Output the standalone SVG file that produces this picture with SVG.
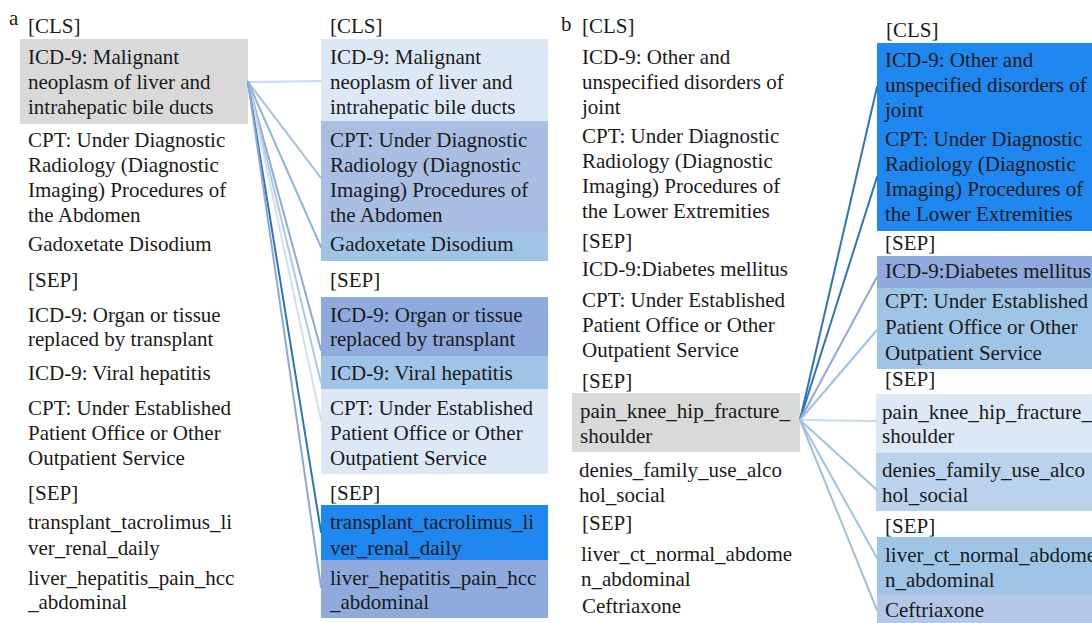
<svg xmlns="http://www.w3.org/2000/svg" width="1092" height="623" viewBox="0 0 1092 623">
<style>
text{font-family:"Liberation Serif","Times New Roman",serif;font-size:21px;fill:#1a1a1a}
.lbl{font-size:21px}
.conn line{stroke-width:2;stroke-linecap:round;fill:none}
.gray{fill:#d9d9d9}
.c1{fill:#dce8f5}
.c2{fill:#a9bee2}
.c3{fill:#9fc4e6}
.c4{fill:#8faadc}
.c5{fill:#1f88f0}
.c6{fill:#bad2ec}
.c7{fill:#b4c7e7}
</style>
<rect width="1092" height="623" fill="#ffffff"/>

<!-- Panel a -->
<g id="label-a"><text class="lbl" x="9" y="25">a</text></g>

<g id="a-left">
  <rect class="gray" x="20" y="39" width="228" height="85"/>
  <text x="28" y="33">[CLS]</text>
  <text x="28" y="64">ICD-9: Malignant</text>
  <text x="28" y="89">neoplasm of liver and</text>
  <text x="28" y="114">intrahepatic bile ducts</text>
  <text x="28" y="147">CPT: Under Diagnostic</text>
  <text x="28" y="172">Radiology (Diagnostic</text>
  <text x="28" y="197">Imaging) Procedures of</text>
  <text x="28" y="222">the Abdomen</text>
  <text x="28" y="251">Gadoxetate Disodium</text>
  <text x="28" y="287">[SEP]</text>
  <text x="28" y="322">ICD-9: Organ or tissue</text>
  <text x="28" y="346">replaced by transplant</text>
  <text x="28" y="380">ICD-9: Viral hepatitis</text>
  <text x="28" y="415">CPT: Under Established</text>
  <text x="28" y="440">Patient Office or Other</text>
  <text x="28" y="465">Outpatient Service</text>
  <text x="28" y="500">[SEP]</text>
  <text x="28" y="529">transplant_tacrolimus_li</text>
  <text x="28" y="555">ver_renal_daily</text>
  <text x="28" y="585">liver_hepatitis_pain_hcc</text>
  <text x="28" y="609">_abdominal</text>
</g>

<g id="a-right">
  <rect class="c1" x="321" y="39" width="227" height="82"/>
  <rect class="c2" x="321" y="121" width="227" height="112"/>
  <rect class="c3" x="321" y="233" width="227" height="28"/>
  <rect class="c4" x="321" y="297" width="227" height="59"/>
  <rect class="c3" x="321" y="356" width="227" height="33"/>
  <rect class="c1" x="321" y="389" width="227" height="85"/>
  <rect class="c5" x="321" y="505" width="227" height="55"/>
  <rect class="c4" x="321" y="560" width="227" height="58"/>
  <text x="330" y="33">[CLS]</text>
  <text x="330" y="64">ICD-9: Malignant</text>
  <text x="330" y="89">neoplasm of liver and</text>
  <text x="330" y="114">intrahepatic bile ducts</text>
  <text x="330" y="147">CPT: Under Diagnostic</text>
  <text x="330" y="172">Radiology (Diagnostic</text>
  <text x="330" y="197">Imaging) Procedures of</text>
  <text x="330" y="222">the Abdomen</text>
  <text x="330" y="251">Gadoxetate Disodium</text>
  <text x="330" y="287">[SEP]</text>
  <text x="330" y="322">ICD-9: Organ or tissue</text>
  <text x="330" y="346">replaced by transplant</text>
  <text x="330" y="380">ICD-9: Viral hepatitis</text>
  <text x="330" y="415">CPT: Under Established</text>
  <text x="330" y="440">Patient Office or Other</text>
  <text x="330" y="465">Outpatient Service</text>
  <text x="330" y="500">[SEP]</text>
  <text x="330" y="529">transplant_tacrolimus_li</text>
  <text x="330" y="555">ver_renal_daily</text>
  <text x="330" y="585">liver_hepatitis_pain_hcc</text>
  <text x="330" y="609">_abdominal</text>
</g>

<g id="a-connectors" class="conn">
  <line x1="248" y1="82" x2="321" y2="81" stroke="#c9dbf0"/>
  <line x1="248" y1="82" x2="321" y2="178" stroke="#a6bde2"/>
  <line x1="248" y1="82" x2="321" y2="247" stroke="#8fb4de"/>
  <line x1="248" y1="82" x2="321" y2="350" stroke="#8fa8dc"/>
  <line x1="248" y1="82" x2="321" y2="383" stroke="#aac8e8"/>
  <line x1="248" y1="82" x2="321" y2="420" stroke="#d0e0f2"/>
  <line x1="248" y1="82" x2="321" y2="532" stroke="#2e75b6"/>
  <line x1="248" y1="82" x2="321" y2="587" stroke="#8fa8dc"/>
</g>

<!-- Panel b -->
<g id="label-b"><text class="lbl" x="561" y="31">b</text></g>

<g id="b-left">
  <rect class="gray" x="572" y="393" width="228" height="59"/>
  <text x="582" y="33">[CLS]</text>
  <text x="582" y="64">ICD-9: Other and</text>
  <text x="582" y="89">unspecified disorders of</text>
  <text x="582" y="114">joint</text>
  <text x="582" y="143">CPT: Under Diagnostic</text>
  <text x="582" y="168">Radiology (Diagnostic</text>
  <text x="582" y="193">Imaging) Procedures of</text>
  <text x="582" y="218">the Lower Extremities</text>
  <text x="582" y="248">[SEP]</text>
  <text x="582" y="276">ICD-9:Diabetes mellitus</text>
  <text x="582" y="307">CPT: Under Established</text>
  <text x="582" y="332">Patient Office or Other</text>
  <text x="582" y="357">Outpatient Service</text>
  <text x="582" y="388">[SEP]</text>
  <text x="580" y="418">pain_knee_hip_fracture_</text>
  <text x="580" y="443">shoulder</text>
  <text x="579" y="477">denies_family_use_alco</text>
  <text x="579" y="502">hol_social</text>
  <text x="582" y="530">[SEP]</text>
  <text x="581" y="561">liver_ct_normal_abdome</text>
  <text x="581" y="586">n_abdominal</text>
  <text x="582" y="613">Ceftriaxone</text>
</g>

<g id="b-right">
  <rect class="c5" x="877" y="43" width="215" height="188"/>
  <rect class="c4" x="877" y="256" width="215" height="32"/>
  <rect class="c3" x="877" y="288" width="215" height="81"/>
  <rect class="c1" x="876" y="394" width="216" height="59"/>
  <rect class="c6" x="876" y="453" width="216" height="58"/>
  <rect class="c3" x="877" y="537" width="215" height="58"/>
  <rect class="c7" x="877" y="595" width="215" height="28"/>
  <text x="886" y="37">[CLS]</text>
  <text x="885" y="67">ICD-9: Other and</text>
  <text x="885" y="92">unspecified disorders of</text>
  <text x="885" y="117">joint</text>
  <text x="885" y="146">CPT: Under Diagnostic</text>
  <text x="885" y="171">Radiology (Diagnostic</text>
  <text x="885" y="196">Imaging) Procedures of</text>
  <text x="885" y="221">the Lower Extremities</text>
  <text x="885" y="250">[SEP]</text>
  <text x="885" y="278">ICD-9:Diabetes mellitus</text>
  <text x="885" y="308">CPT: Under Established</text>
  <text x="885" y="334">Patient Office or Other</text>
  <text x="885" y="360">Outpatient Service</text>
  <text x="885" y="386">[SEP]</text>
  <text x="882" y="419">pain_knee_hip_fracture_</text>
  <text x="882" y="443">shoulder</text>
  <text x="882" y="477">denies_family_use_alco</text>
  <text x="882" y="502">hol_social</text>
  <text x="885" y="533">[SEP]</text>
  <text x="885" y="562">liver_ct_normal_abdome</text>
  <text x="885" y="587">n_abdominal</text>
  <text x="885" y="617">Ceftriaxone</text>
</g>

<g id="b-connectors" class="conn">
  <line x1="800" y1="420" x2="877" y2="87" stroke="#2e75b6"/>
  <line x1="800" y1="420" x2="877" y2="177" stroke="#2e75b6"/>
  <line x1="800" y1="420" x2="877" y2="277" stroke="#8fa8dc"/>
  <line x1="800" y1="420" x2="877" y2="330" stroke="#9dc3e6"/>
  <line x1="800" y1="420" x2="877" y2="421" stroke="#c8dbf0"/>
  <line x1="800" y1="420" x2="877" y2="490" stroke="#9dc3e6"/>
  <line x1="800" y1="420" x2="877" y2="558" stroke="#9dc3e6"/>
  <line x1="800" y1="420" x2="877" y2="610" stroke="#a6bde2"/>
</g>
</svg>
